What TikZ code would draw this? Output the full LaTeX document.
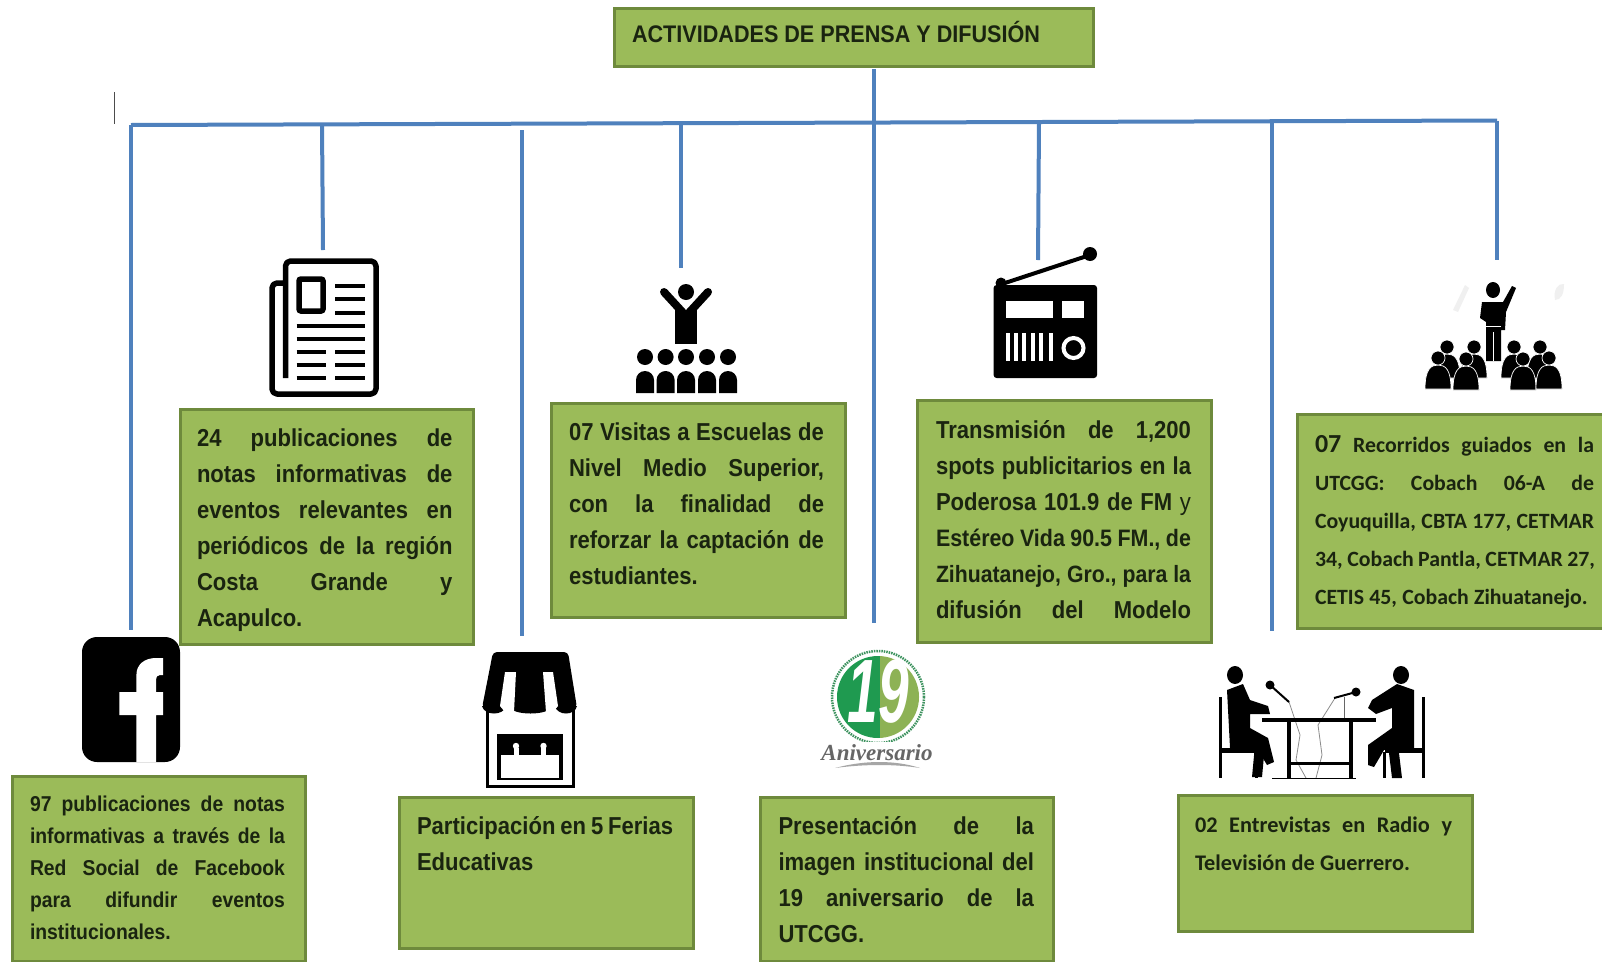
\documentclass[tikz,border=0pt]{standalone}
\usepackage{fontspec}
\usetikzlibrary{fit}
\setmainfont[FakeStretch=0.90]{Liberation Sans}
\newfontfamily\calib{Carlito}
\newfontfamily\scrip{Liberation Serif}
\definecolor{boxgreen}{HTML}{9BBB59}
\definecolor{boxedge}{HTML}{6E8A3C}
\definecolor{linkblue}{HTML}{4F81BD}
\definecolor{ink}{HTML}{1A2410}
\definecolor{logodark}{HTML}{1F9A50}
\definecolor{logolight}{HTML}{8DB255}
\newlength{\linew}
\newcommand{\jl}[1]{\hbox to \linew{\rule{0pt}{18pt}#1}}
\newcommand{\jn}[1]{\hbox to \linew{\rule{0pt}{18pt}#1\hfill}}
\newcommand{\lbl}[7]{% name, x, baseline y, width, pitch, font, lines
  \setlength{\linew}{#4pt}%
  \pgfmathsetmacro{\toppos}{#3-18}%
  \node[boxtext, text width=#4pt] (#1) at (#2,\toppos) {\vbox{#6\spaceskip=0.24em plus 1fil minus 0.04em\relax\setlength{\baselineskip}{#5pt}\setlength{\lineskiplimit}{-100pt}\setlength{\parskip}{0pt}#7}};}
\tikzset{
  x=1pt,y=-1pt,
  greenbox/.style={draw=boxedge,line width=3pt,fill=boxgreen,inner sep=0pt,rectangle},
  boxtext/.style={anchor=north west,inner sep=0pt,outer sep=0pt,text=ink},
  link/.style={draw=linkblue,line width=4pt},
  news/.style={draw=black,line width=4pt},
}
\newcommand{\crowd}[2]{%
  \fill[black] (#1,#2) circle[radius=8];
  \fill[black] (#1-9,#2+36) -- (#1-9,#2+23) arc[start angle=180,end angle=360,radius=9] -- (#1+9,#2+36) -- cycle;}
\newcommand{\folk}[2]{%
  \fill[black,draw=white,line width=.7pt] (#1-13,#2+31) .. controls (#1-13,#2+11) and (#1-7,#2+7) .. (#1,#2+7) .. controls (#1+7,#2+7) and (#1+13,#2+11) .. (#1+13,#2+31) -- cycle;
  \fill[black,draw=white,line width=.7pt] (#1,#2) circle[radius=7];}
\begin{document}
\begin{tikzpicture}
\useasboundingbox (0,0) rectangle (1602,961);
\fill[white] (0,0) rectangle (1602,961);

% stray mark
\draw[draw=black!70,line width=1.2pt] (114.5,92) -- (114.5,124);

% boxes
\node[greenbox,fit={(614,8)(1093,66)}] (title) {};
\node[greenbox,fit={(12,776)(305,961)}] (bfb) {};
\node[greenbox,fit={(180,409)(473,644)}] (bnews) {};
\node[greenbox,fit={(399,797)(693,948)}] (bfer) {};
\node[greenbox,fit={(551,403)(845,617)}] (bvis) {};
\node[greenbox,fit={(760,797)(1053,961)}] (bpre) {};
\node[greenbox,fit={(917,400)(1211,642)}] (btra) {};
\node[greenbox,fit={(1178,795)(1472,931)}] (bent) {};
\node[greenbox,fit={(1297,414)(1604,628)}] (brec) {};

% connectors
\coordinate (busL) at (131,125);
\coordinate (busR) at (1497,120.5);
\coordinate (j1) at (322,124.4);
\coordinate (j2) at (522,130);
\coordinate (j3) at (681,123.2);
\coordinate (j4) at (873.5,69);
\coordinate (j5) at (1039,122);
\coordinate (j6) at (1272,121.2);
\coordinate (e0) at (131,630);
\coordinate (e1) at (323,250);
\coordinate (e2) at (522,636);
\coordinate (e3) at (681,268);
\coordinate (e4) at (873.5,623);
\coordinate (e5) at (1038,260);
\coordinate (e6) at (1272,631);
\coordinate (e7) at (1497,260);
\draw[link] (busL) -- (busR);
\draw[link] (busL) -- (e0);
\draw[link] (j1) -- (e1);
\draw[link] (j2) -- (e2);
\draw[link] (j3) -- (e3);
\draw[link] (j4) -- (e4);
\draw[link] (j5) -- (e5);
\draw[link] (j6) -- (e6);
\draw[link] (busR) -- (e7);

% texts
\node[boxtext,font=\fontsize{24}{24}\selectfont\bfseries] (ttitle) at (632,21) {ACTIVIDADES DE PRENSA Y DIFUSIÓN};
\lbl{tfb}{30}{811}{255}{32.2}{\fontsize{21.5}{30}\selectfont\bfseries}{%
 \jl{97 publicaciones de notas}\jl{informativas a través de la}\jl{Red Social de Facebook}\jl{para difundir eventos}\jn{institucionales.}}
\lbl{tnews}{197}{446}{255.5}{36}{\fontsize{24.5}{30}\selectfont\bfseries}{%
 \jl{24 publicaciones de}\jl{notas informativas de}\jl{eventos relevantes en}\jl{periódicos de la región}\jl{Costa Grande y}\jn{Acapulco.}}
\lbl{tfer}{417}{834}{256}{36}{\fontsize{24.5}{30}\selectfont\bfseries}{%
 \jn{Participación en 5 Ferias}\jn{Educativas}}
\lbl{tvis}{569}{440}{255}{36}{\fontsize{24.5}{30}\selectfont\bfseries}{%
 \jl{07 Visitas a Escuelas de}\jl{Nivel Medio Superior,}\jl{con la finalidad de}\jl{reforzar la captación de}\jn{estudiantes.}}
\lbl{tpre}{778.5}{834}{255.5}{36}{\fontsize{24.5}{30}\selectfont\bfseries}{%
 \jl{Presentación de la}\jl{imagen institucional del}\jl{19 aniversario de la}\jn{UTCGG.}}
\lbl{ttra}{936}{438}{255}{36}{\fontsize{24.5}{30}\selectfont\bfseries}{%
 \jl{Transmisión de 1,200}\jl{spots publicitarios en la}\jl{Poderosa 101.9 de FM {\mdseries y}}\jl{\fontsize{23.8}{30}\selectfont Estéreo Vida 90.5 FM., de}\jl{\fontsize{23.6}{30}\selectfont Zihuatanejo, Gro., para la}\jl{difusión del Modelo}}
\lbl{tent}{1195}{832}{257}{38}{\calib\fontsize{22.3}{30}\selectfont\bfseries}{%
 \jl{02 Entrevistas en Radio y}\jn{Televisión de Guerrero.}}
\lbl{trec}{1315}{452}{279}{38}{\calib\fontsize{21.8}{30}\selectfont\bfseries}{%
 \jl{{\fontsize{26}{30}\selectfont 07} Recorridos guiados en la}\jl{UTCGG: Cobach 06-A de}\jl{Coyuquilla, CBTA 177, CETMAR}\jl{34, Cobach Pantla, CETMAR 27,}\jn{CETIS 45, Cobach Zihuatanejo.}}

% --- newspaper icon
\draw[news,line width=5.5pt,rounded corners=5pt,line join=round] (285.5,378) -- (285.5,261) -- (376,261) -- (376,394) -- (272,394) -- (272,283) -- (285.5,283);
\draw[news,line width=5.5pt,rounded corners=2pt] (299,279) rectangle (323,311);
\foreach \yy in {286,299,313}{\draw[news] (335,\yy) -- (365,\yy);}
\foreach \yy in {326,339}{\draw[news] (296.5,\yy) -- (365,\yy);}
\foreach \yy in {352,365,378}{\draw[news] (296.5,\yy) -- (326,\yy); \draw[news] (335,\yy) -- (365,\yy);}

% --- leader with audience
\fill[black] (686,292) circle[radius=8];
\draw[black,line width=8pt,line cap=round,line join=miter] (664,292) -- (686,316) -- (708,292);
\fill[black] (675,310) -- (697,310) -- (697,344) -- (675,344) -- cycle;
\foreach \xx in {645,665.6,686,707,728}{\crowd{\xx}{357}}

% --- radio
\draw[black,line width=4pt] (1005,283) -- (1090,255);
\fill[black] (1090,254) circle[radius=7];
\fill[black] (1001,283) circle[radius=5.5];
\fill[black,rounded corners=3pt] (993.6,285) rectangle (1097,378);
\fill[white] (1006,301) rectangle (1053,318);
\fill[white] (1062,301) rectangle (1084,318);
\foreach \xx in {1008,1016,1024,1033,1041,1051}{\fill[white] (\xx-1.7,333) rectangle (\xx+1.7,361);}
\draw[white,line width=4pt] (1073.5,348) circle[radius=10];

% --- speaker and crowd
\fill[black!6] (1453,310) -- (1465,285) -- (1469,288) -- (1458,312) -- cycle;
\fill[black!6] (1555,300) .. controls (1553,290) and (1558,283) .. (1564,284) .. controls (1564,294) and (1561,300) .. (1555,300) -- cycle;
\fill[black] (1493,290) ellipse[x radius=7,y radius=8];
\fill[black] (1482,302) -- (1503,302) -- (1512,286) -- (1516,288) -- (1506,312) -- (1505,330) -- (1501,330) -- (1501,361) -- (1486,361) -- (1486,322) -- (1480,318) -- cycle;
\draw[white,line width=1pt] (1486,326) -- (1501,326);
\draw[white,line width=1pt] (1493.5,332) -- (1493.5,361);
\folk{1447}{347}\folk{1474}{347}\folk{1438}{358}\folk{1466}{359}
\folk{1514}{347}\folk{1540}{347}\folk{1523}{359}\folk{1549}{358}

% --- facebook
\fill[black,rounded corners=15pt] (82,637) rectangle (180,762);
\fill[white] (136.4,692) -- (136.4,675) .. controls (136.4,664) and (145,658) .. (156,658) -- (163,658) -- (163,675) -- (160,675) .. controls (157,675) and (156,677) .. (156,680) -- (156,692) -- (163,692) -- (163,715) -- (156,715) -- (156,762) -- (136.4,762) -- (136.4,715) -- (119.4,715) -- (119.4,692) -- cycle;

% --- store
\draw[black,line width=3pt] (487,700) -- (487,786) -- (573,786) -- (573,700);
\fill[black,rounded corners=4pt] (493,652) -- (568,652) -- (577,708) -- (482,708) -- cycle;
\fill[black] (482,706) .. controls (484,716) and (504,716) .. (506,706) -- cycle;
\fill[black] (509,706) .. controls (511,716) and (550,716) .. (552,706) -- cycle;
\fill[black] (555,706) .. controls (557,716) and (575,716) .. (577,706) -- cycle;
\fill[white] (505,672) -- (516,672) -- (514,712) -- (505,712) -- (500,706) -- cycle;
\fill[white] (543,672) -- (553,672) -- (558,706) -- (553,712) -- (546,712) -- cycle;
\fill[black] (497,734) rectangle (563,780);
\fill[white] (501,755) rectangle (559,778);
\foreach \xx in {516,543.5}{\fill[white] (\xx,746) circle[radius=3.2]; \fill[white] (\xx-2.5,748) rectangle (\xx+2.5,756);}

% --- anniversary logo
\begin{scope}
 \clip (878,697) circle[radius=41];
 \fill[logodark] (830,650) rectangle (880,750);
 \fill[logolight] (880,650) rectangle (930,750);
\end{scope}
\draw[logodark!70!gray,line width=2.5pt,dash pattern=on 1.5pt off 1pt] (878,697) circle[radius=46];
\fill[white] (826,742) rectangle (930,772);
\node[inner sep=0pt,text=white] (n19) at (878,692) {\scalebox{0.85}[1.25]{\fontsize{72}{72}\selectfont\bfseries\itshape 19}};
\fill[black!35] (835,768) .. controls (865,760) and (895,760) .. (920,768) .. controls (895,764) and (865,764) .. (835,768) -- cycle;
\node[inner sep=0pt,text=black!60] (naniv) at (877,753) {\scrip\fontsize{23}{23}\selectfont\bfseries\itshape Aniversario};

% --- interview
\draw[black!45,line width=.8pt] (1289,702) -- (1300,735) -- (1296,760) -- (1306,778);
\draw[black!45,line width=.8pt] (1335,698) -- (1318,725) -- (1322,755) -- (1316,778);
\draw[black!60,line width=1pt] (1344,697) -- (1344,718);
\begin{scope}
 \draw[black,line width=3pt] (1220,697) -- (1220,778);
 \draw[black,line width=3pt] (1256,752) -- (1256,778);
 \fill[black] (1220,748) rectangle (1258,753);
 \fill[black] (1235,675) ellipse[x radius=8,y radius=9];
 \fill[black] (1227,690) -- (1243,684) -- (1250,700) -- (1268,706) -- (1270,714) -- (1250,714) -- (1250,728) -- (1268,738) -- (1274,762) -- (1267,765) -- (1258,750) -- (1230,748) -- cycle;
 \fill[black] (1255,745) -- (1265,745) -- (1262,777) -- (1252,777) -- cycle;
\end{scope}
\begin{scope}
 \draw[black,line width=3pt] (1423,697) -- (1423,778);
 \draw[black,line width=3pt] (1384,752) -- (1384,778);
 \fill[black] (1385,748) rectangle (1423,753);
 \fill[black] (1401,675) ellipse[x radius=8,y radius=9];
 \fill[black] (1414,690) -- (1397,684) -- (1372,700) -- (1368,708) -- (1376,714) -- (1392,708) -- (1392,728) -- (1368,745) -- (1368,765) -- (1374,767) -- (1384,750) -- (1414,748) -- cycle;
 \fill[black] (1388,745) -- (1398,745) -- (1402,778) -- (1392,778) -- cycle;
\end{scope}
\fill[black] (1262,718) rectangle (1376,722);
\fill[black] (1287,720) rectangle (1291,778);
\fill[black] (1349,720) rectangle (1353,778);
\fill[black] (1289,762) rectangle (1351,765);
\draw[black,line width=1.6pt] (1272,778.5) -- (1356,778.5);
\draw[black,line width=2pt] (1270,685) -- (1289,702);
\fill[black] (1270,685) circle[radius=4.5];
\draw[black,line width=2pt] (1356,692) -- (1334,698);
\fill[black] (1356,692) circle[radius=4.5];
\end{tikzpicture}
\end{document}
